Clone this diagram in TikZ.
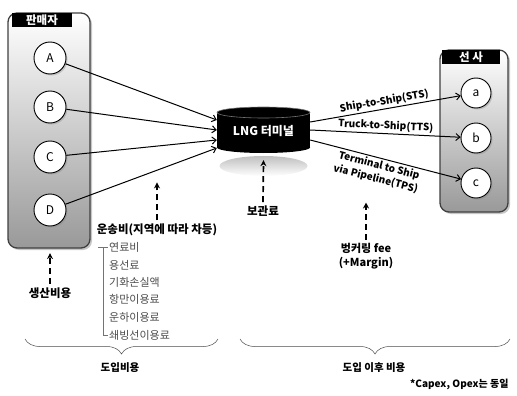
\documentclass[tikz,border=0pt]{standalone}
\usepackage{fontspec}
\setmainfont{Noto Sans CJK KR}
\usetikzlibrary{shapes,arrows.meta,shadows,decorations.pathreplacing,calc,fadings}

\begin{document}
\begin{tikzpicture}[x=1pt,y=-1pt,font=\fontsize{11}{13}\selectfont,
  grp/.style={draw=black!75,line width=1.3pt,rounded corners=9pt,top color=white,bottom color=black!40,
    drop shadow={opacity=.45,shadow xshift=2pt,shadow yshift=-2pt}},
  tab/.style={fill=black,text=white,font=\bfseries\fontsize{11.5}{13}\selectfont,inner sep=0pt,minimum height=14pt},
  firm/.style={circle,draw,line width=.9pt,fill=white,minimum size=32pt,inner sep=0pt,font=\fontsize{12}{14}\selectfont,
    drop shadow={opacity=.35,shadow xshift=1.5pt,shadow yshift=-1.5pt}},
  flow/.style={-{Straight Barb[length=4pt,width=7pt]},line width=1pt},
  feed/.style={-{Stealth[length=6pt,width=6pt]},line width=1.7pt,dash pattern=on 6pt off 4pt},
  route/.style={font=\bfseries\fontsize{10}{11.5}\selectfont,inner sep=2pt},
  cost/.style={font=\bfseries\fontsize{11.5}{14}\selectfont},
  item/.style={anchor=west,text=black!70,inner sep=1pt,font=\fontsize{11}{13}\selectfont},
  brc/.style={decorate,decoration={brace,amplitude=15pt},line width=.5pt,draw=black!70}]
\useasboundingbox (0,0) rectangle (517,396);

% seller box
\draw[grp] (8,13) rectangle (90,248);
\node[tab,minimum width=60pt] (seller) at (42,20) {판매자};
\node[firm] (A) at (50,58) {A};
\node[firm] (B) at (50,107) {B};
\node[firm] (C) at (50,157) {C};
\node[firm] (D) at (50,210) {D};

% ship owner box
\draw[grp] (440,50) rectangle (508,212);
\node[tab,minimum width=58pt] (owner) at (471,57) {선 사};
\node[firm,minimum size=30pt] (a) at (476,93) {a};
\node[firm,minimum size=30pt] (b) at (476,138) {b};
\node[firm,minimum size=30pt] (c) at (476,183) {c};

% terminal
\fill[black!25,path fading=south] (263.5,166) ellipse[x radius=44,y radius=10];
\fill[black] (217,112.5) rectangle (310,147.5);
\fill[black] (263.5,147.5) ellipse[x radius=46.5,y radius=5.5];
\draw[black!55,fill=black,line width=.6pt] (263.5,112.5) ellipse[x radius=46.5,y radius=5.5];
\node[text=white,minimum width=93pt,minimum height=46pt,inner sep=0pt,font=\bfseries\fontsize{12}{14}\selectfont] (term) at (263.5,131) {LNG 터미널};

\draw[flow] (A) -- ($(term.west)+(0,-11)$);
\draw[flow] (B) -- ($(term.west)+(0,-1)$);
\draw[flow] (C) -- ($(term.west)+(0,9)$);
\draw[flow] (D) -- ($(term.west)+(0,17)$);

\draw[flow] ($(term.east)+(0,-9)$) -- node[above,sloped,route]{Ship-to-Ship(STS)} (a);
\draw[flow] ($(term.east)+(0,-1)$) -- node[above,sloped,route]{Truck-to-Ship(TTS)} (b);
\draw[flow] ($(term.east)+(0,9)$) -- node[below,sloped,route,align=center,pos=.47,
  font=\bfseries\fontsize{10}{13.5}\selectfont]{Terminal to Ship\\via Pipeline(TPS)} (c);

% costs
\node[cost] (prod) at (50,293) {생산비용};
\draw[feed] (prod.north) -- ($(prod.north)+(0,-31)$);
\node[cost] (trans) at (157,230) {운송비(지역에 따라 차등)};
\draw[feed] (trans.north) -- ($(trans.north)+(0,-38)$);
\node[cost] (store) at (263,211) {보관료};
\draw[feed] (store.north) -- ($(term.south)+(0,6)$);
\node[cost,align=center,font=\bfseries\fontsize{11}{14}\selectfont] (bunker) at (366,256) {벙커링 fee\\(+Margin)};
\draw[feed] (bunker.north) -- ($(bunker.north)+(0,-37)$);

% transport items
\node[item] (i1) at (108,247) {연료비};
\node[item] (i2) at (108,265) {용선료};
\node[item] (i3) at (108,282) {기화손실액};
\node[item] (i4) at (108,299) {항만이용료};
\node[item] (i5) at (108,317) {운하이용료};
\node[item] (i6) at (108,335) {쇄빙선이용료};
\draw[black!55,line width=.8pt] ($(i1.west)+(-10,0)$) -- (i1.west);
\draw[black!55,line width=.8pt] ($(i1.west)+(-5,0)$) |- (i6.west);

% totals
\node[cost,font=\bfseries\fontsize{10.5}{13}\selectfont] (intro) at (120,368) {도입비용};
\node[cost,font=\bfseries\fontsize{10.5}{13}\selectfont] (after) at (374,368) {도입 이후 비용};
\node[cost,anchor=east,font=\bfseries\fontsize{10}{12}\selectfont] (note) at (512,384) {*Capex, Opex는 동일};
\draw[brc] (218,339) -- (25,339);
\draw[brc] (510,339) -- (240,339);
\end{tikzpicture}
\end{document}
